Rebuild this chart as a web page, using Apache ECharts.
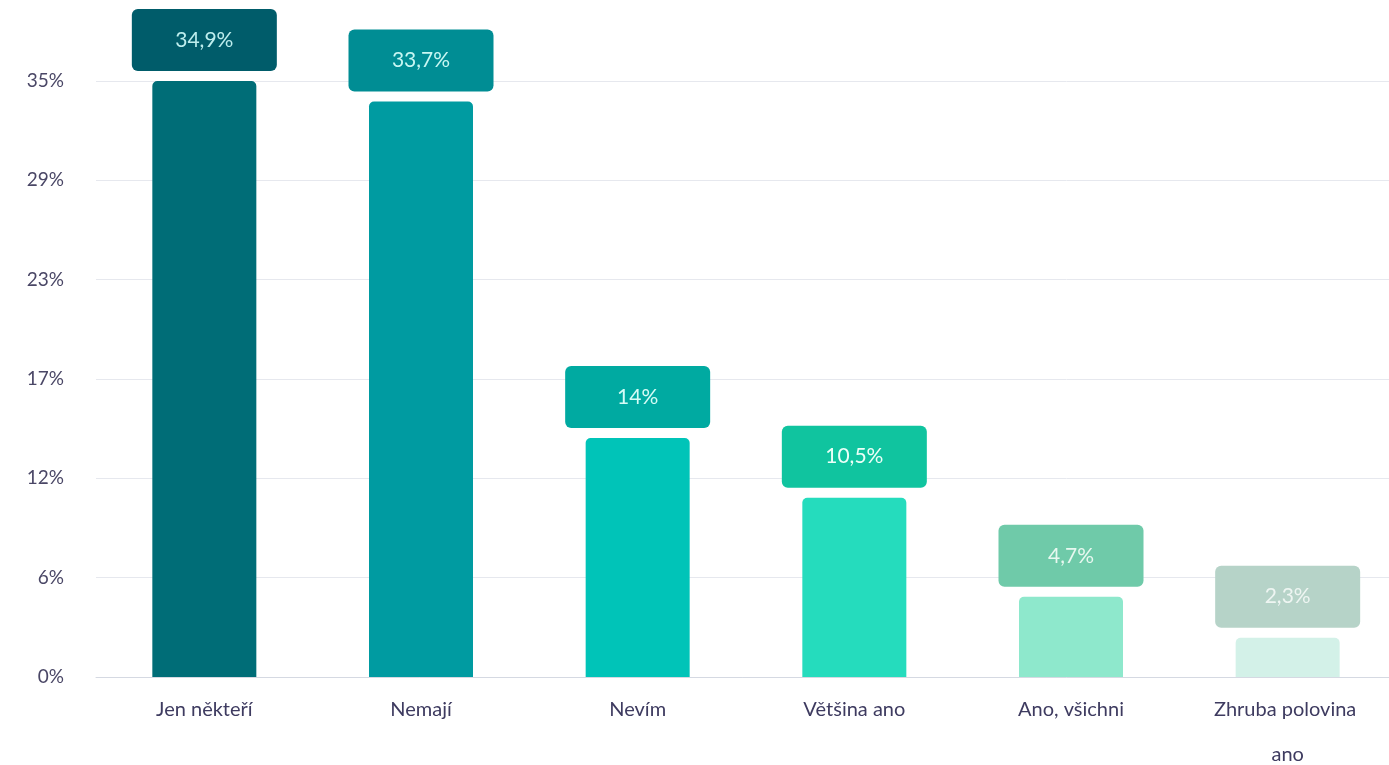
<!DOCTYPE html>
<html>
<head>
<meta charset="utf-8">
<script src="https://cdn.jsdelivr.net/npm/echarts@6/dist/echarts.min.js"></script>
<style>
  html, body { margin: 0; padding: 0; background: #fff; }
  #chart { width: 1389px; height: 765px; }
</style>
</head>
<body>
<div id="chart"></div>
<script>
// data
const categories = ['Jen někteří', 'Nemají', 'Nevím', 'Většina ano', 'Ano, všichni', 'Zhruba polovina ano']
const values = [34.9, 33.7, 14, 10.5, 4.7, 2.3]
const valueLabels = ['34,9%', '33,7%', '14%', '10,5%', '4,7%', '2,3%']

// colours per bar (bar, label box, label text)
const barColors = ['#006d77', '#009ba1', '#00c4b8', '#25dcbd', '#8ee8cc', '#d3f1e8']
const boxColors = ['#005c6a', '#008d94', '#00aaa1', '#10c49f', '#6fcaa9', '#b6d3c8']
const textColors = ['#bdeeee', '#c8f7f3', '#d6fcf6', '#ecfff8', '#e8f8f0', '#eef5f2']

const chart = echarts.init(document.getElementById('chart'))

const yMax = Math.max(...values)

const option = {
  animation: false,
  textStyle: { fontFamily: 'Lato, sans-serif' },
  grid: {
    left: 96,
    right: -7,
    top: 81,
    bottom: 88,
    outerBoundsMode: 'none' // keep the grid where it is, labels may overflow
  },
  xAxis: {
    type: 'category',
    data: categories,
    axisTick: { show: false },
    axisLine: { lineStyle: { color: '#d5d9e2', width: 1 } },
    axisLabel: {
      color: '#3e3b60',
      fontSize: 20,
      lineHeight: 45,
      margin: 10,
      width: 150,
      overflow: 'break',
      interval: 0
    }
  },
  yAxis: {
    type: 'value',
    min: 0,
    max: yMax,
    interval: yMax / 6,
    axisLabel: {
      color: '#4a4766',
      fontSize: 19,
      margin: 32,
      formatter: function (v) {
        return Math.round(v) + '%'
      }
    },
    splitLine: { lineStyle: { color: '#e6e8ee', width: 1 } }
  },
  series: [
    {
      type: 'bar',
      barWidth: 104,
      data: values.map(function (v, i) {
        return {
          value: v,
          itemStyle: { color: barColors[i], borderRadius: [5, 5, 0, 0] },
          label: {
            show: true,
            position: 'top',
            distance: 10,
            formatter: valueLabels[i],
            color: textColors[i],
            backgroundColor: boxColors[i],
            borderRadius: 6,
            fontSize: 21,
            width: 145,
            height: 62,
            lineHeight: 62,
            align: 'center'
          }
        }
      })
    }
  ]
}

chart.setOption(option)
</script>
</body>
</html>
